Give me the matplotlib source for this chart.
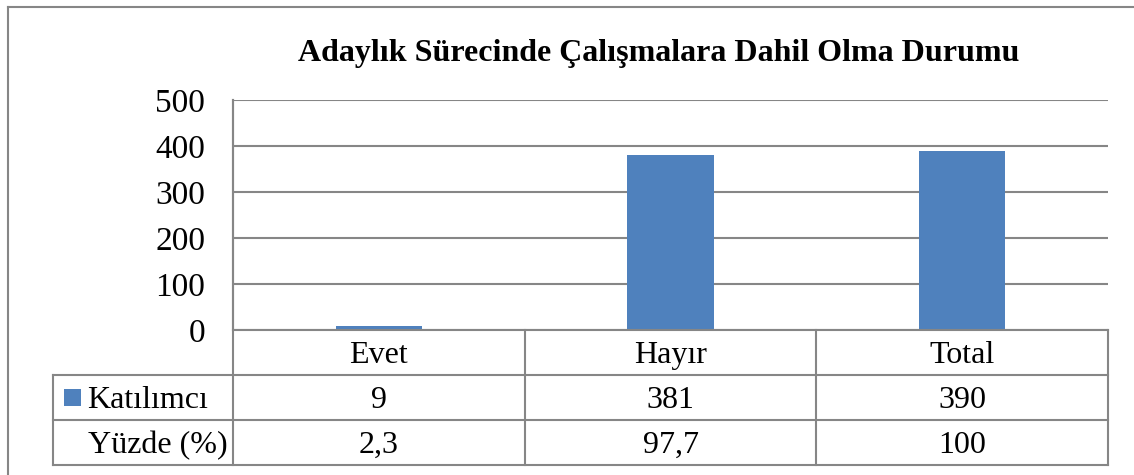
#!/usr/bin/env python3
import matplotlib.pyplot as plt
from matplotlib.lines import Line2D
from matplotlib.patches import Rectangle

categories = ["Evet", "Hayır", "Total"]
katilimci = [9, 381, 390]
yuzde = ["2,3", "97,7", "100"]
row_labels = ["Katılımcı", "Yüzde (%)"]
title = "Adaylık Sürecinde Çalışmalara Dahil Olma Durumu"

W, H = 1134, 475
BLUE = "#4F81BD"
GREY = "#868686"
FS = 23

plt.rcParams["font.family"] = ["Liberation Serif", "DejaVu Serif"]

fig = plt.figure(figsize=(W / 100, H / 100), dpi=100)


def fx(px):
    return px / W


def fy(py):
    return 1 - py / H


left, right, top, bottom = 233, 1108, 100, 330
ax = fig.add_axes([fx(left), fy(bottom), fx(right) - fx(left), fy(top) - fy(bottom)])

xs = list(range(len(categories)))
ax.bar(xs, katilimci, width=0.295, color=BLUE, zorder=3)
ax.set_xlim(-0.5, len(categories) - 0.5)
ax.set_ylim(0, 500)
ax.set_yticks(range(0, 501, 100))
ax.yaxis.grid(True, color=GREY, linewidth=1.5, zorder=0)
ax.set_xticks([])
ax.tick_params(axis="y", length=0, labelsize=24, pad=20)
for s in ["top", "right", "bottom"]:
    ax.spines[s].set_visible(False)
ax.spines["left"].set_color(GREY)
ax.spines["left"].set_linewidth(1.5)

fig.text(fx(659), fy(54), title, ha="center", va="center",
         fontsize=23, fontweight="bold")

# data table below the axis
row_h = 45
y0 = bottom
col_w = (right - left) / len(categories)
tl = 53
dy = 3  # text sits a little low in each cell


def hline(x1, x2, y):
    fig.add_artist(Line2D([fx(x1), fx(x2)], [fy(y), fy(y)], color=GREY, lw=1.5))


def vline(x, y1, y2):
    fig.add_artist(Line2D([fx(x), fx(x)], [fy(y1), fy(y2)], color=GREY, lw=1.5))


hline(left, right, y0)
hline(tl, right, y0 + row_h)
hline(tl, right, y0 + 2 * row_h)
hline(tl, right, y0 + 3 * row_h)
vline(tl, y0 + row_h, y0 + 3 * row_h)
vline(left, top, y0 + 3 * row_h)
for i in range(1, len(categories) + 1):
    vline(left + i * col_w, y0, y0 + 3 * row_h)

for i, c in enumerate(categories):
    cx = left + (i + 0.5) * col_w
    fig.text(fx(cx), fy(y0 + 0.5 * row_h + dy), c, ha="center", va="center", fontsize=FS)
    fig.text(fx(cx), fy(y0 + 1.5 * row_h + dy), str(katilimci[i]), ha="center", va="center", fontsize=FS)
    fig.text(fx(cx), fy(y0 + 2.5 * row_h + dy), yuzde[i], ha="center", va="center", fontsize=FS)

fig.add_artist(Rectangle((fx(64), fy(406)), fx(17), 17 / H, transform=fig.transFigure,
                         facecolor=BLUE, edgecolor="none"))
fig.text(fx(87), fy(y0 + 1.5 * row_h + dy), row_labels[0], ha="left", va="center", fontsize=FS)
fig.text(fx(88), fy(y0 + 2.5 * row_h + dy), row_labels[1], ha="left", va="center", fontsize=FS)

# outer chart border
fig.add_artist(Line2D([fx(8), 1], [fy(7), fy(7)], color=GREY, lw=1.5))
fig.add_artist(Line2D([fx(8), fx(8)], [fy(7), 0], color=GREY, lw=1.5))

fig.savefig("out.png", dpi=100)
